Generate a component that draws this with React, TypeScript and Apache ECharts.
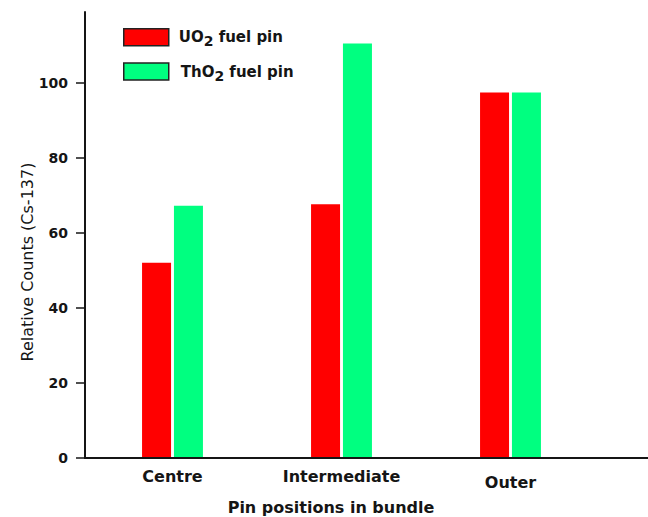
import React, { useEffect, useRef } from "react";
import * as echarts from "echarts";

// Pin positions along the bundle radius
const positions = ["Centre", "Intermediate", "Outer"];
// Relative Cs-137 counts per fuel type
const uo2Counts = [52.1, 67.7, 97.5];
const tho2Counts = [67.3, 110.6, 97.5];
// Y axis range and step
const yMin = 0;
const yMax = 119;
const yStep = 20;

const FONT = "'DejaVu Sans', 'Liberation Sans', Arial, sans-serif";
const INK = "#151515";

export default function App() {
  const ref = useRef<HTMLDivElement>(null);

  useEffect(() => {
    if (!ref.current) return;
    const chart = echarts.init(ref.current, undefined, { renderer: "svg" });

    const legendRich = {
      g1: { width: 5 },
      g2: { width: 7 },
      b: { fontFamily: FONT, fontWeight: "bold" as const, fontSize: 15, color: INK },
      s: {
        fontFamily: FONT,
        fontWeight: "bold" as const,
        fontSize: 14,
        color: INK,
        padding: [8, 0, 0, 0],
      },
    };

    chart.setOption({
      animation: false,
      backgroundColor: "#ffffff",
      textStyle: { fontFamily: FONT },
      grid: {
        left: 88,
        top: 12,
        bottom: 59,
        width: 507,
        outerBoundsMode: "none",
        containLabel: false,
      },
      legend: {
        orient: "vertical",
        left: 118,
        top: 23,
        itemWidth: 45,
        itemHeight: 17,
        itemGap: 14,
        selectedMode: false,
        data: [
          {
            name: "UO2 fuel pin",
            icon: "rect",
            itemStyle: { borderColor: "#222", borderWidth: 1.5 },
          },
          {
            name: "ThO2 fuel pin",
            icon: "rect",
            itemStyle: { borderColor: "#222", borderWidth: 1.5 },
          },
        ],
        formatter: (name: string) =>
          name.startsWith("UO2")
            ? "{g1|}{b|UO}{s|2}{b| fuel pin}"
            : "{g2|}{b|ThO}{s|2}{b| fuel pin}",
        textStyle: { rich: legendRich },
      },
      xAxis: {
        type: "category",
        data: positions.map((p, i) =>
          i === 2 ? { value: p, textStyle: { padding: [6, 0, 0, 0] } } : p
        ),
        axisLine: { lineStyle: { color: INK, width: 2 } },
        axisTick: { show: false },
        axisLabel: {
          fontFamily: FONT,
          fontSize: 16,
          fontWeight: "bold",
          color: INK,
          margin: 10,
        },
        name: "Pin positions in bundle",
        nameLocation: "middle",
        nameGap: 41,
        nameMoveOverlap: false,
        nameTextStyle: {
          fontFamily: FONT,
          fontSize: 16,
          fontWeight: "bold",
          color: INK,
          padding: [0, 21, 0, 0],
        },
      },
      yAxis: {
        type: "value",
        min: yMin,
        max: yMax,
        interval: yStep,
        offset: 3,
        splitLine: { show: false },
        axisLine: { show: true, lineStyle: { color: INK, width: 2 } },
        axisTick: { show: true, length: 9, lineStyle: { color: INK, width: 1.5 } },
        axisLabel: {
          fontFamily: FONT,
          fontSize: 14,
          fontWeight: "bold",
          color: INK,
          margin: 17,
          showMaxLabel: false,
        },
        name: "Relative Counts (Cs-137)",
        nameLocation: "middle",
        nameGap: 50,
        nameMoveOverlap: false,
        nameRotate: 90,
        nameTextStyle: {
          fontFamily: FONT,
          fontSize: 16,
          color: INK,
          padding: [0, 54, 0, 0],
        },
      },
      series: [
        {
          name: "UO2 fuel pin",
          type: "bar",
          data: uo2Counts,
          barWidth: 29,
          barGap: "10%",
          itemStyle: { color: "#ff0000" },
        },
        {
          name: "ThO2 fuel pin",
          type: "bar",
          data: tho2Counts,
          barWidth: 29,
          barGap: "10%",
          itemStyle: { color: "#00ff80" },
        },
      ],
      graphic: [
        {
          type: "line",
          shape: { x1: 84, y1: 458, x2: 648, y2: 458 },
          style: { stroke: INK, lineWidth: 2 },
          z: 10,
        },
      ],
    });

    return () => chart.dispose();
  }, []);

  return (
    <div
      ref={ref}
      style={{ position: "fixed", left: 0, top: 0, width: 648, height: 517 }}
    />
  );
}
